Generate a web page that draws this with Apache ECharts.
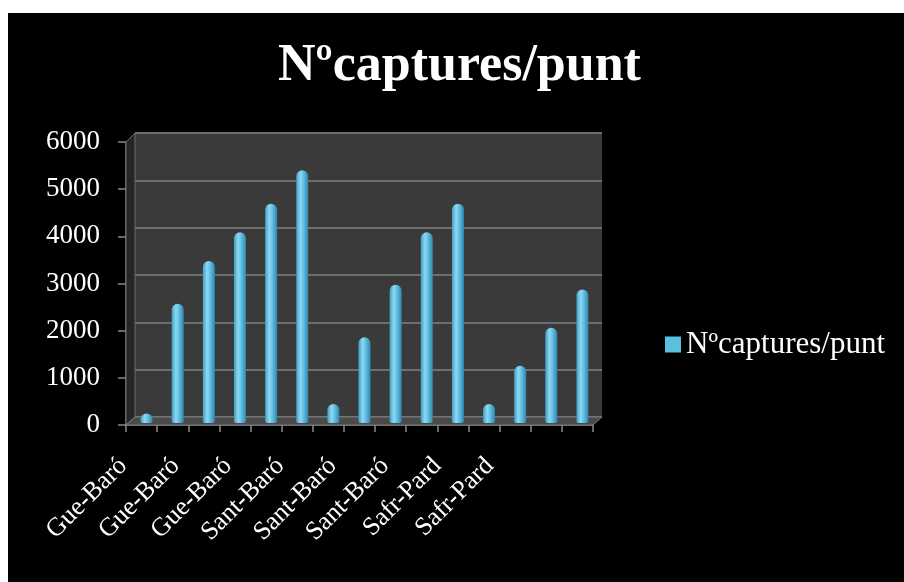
<!DOCTYPE html>
<html><head><meta charset="utf-8">
<script src="https://cdn.jsdelivr.net/npm/echarts@6/dist/echarts.min.js"></script>
<style>html,body{margin:0;padding:0;background:#fff}#c{width:904px;height:582px}</style>
</head><body><div id="c"></div>
<script>
const titleText = 'Nºcaptures/punt';
const seriesName = 'Nºcaptures/punt';
const categories = ['Gue-Baró','Gue-Baró','Gue-Baró','Gue-Baró','Gue-Baró','Gue-Baró',
  'Sant-Baró','Sant-Baró','Sant-Baró','Sant-Baró','Sant-Baró',
  'Safr-Pard','Safr-Pard','Safr-Pard','Safr-Pard'];
const values = [200, 2500, 3400, 4000, 4600, 5300, 400, 1800, 2900, 4000, 4600, 400, 1200, 2000, 2800];
const tickLabels = categories.filter((_, i) => i % 2 === 0);
const yMax = 6000, yStep = 1000;

// layout (pixels)
const FRONT = {l:126, t:142, w:467, h:283};
const BACK = {l:135, t:133, w:467, h:284};
const BARS = {l:131, t:137, w:467, h:286};
const SERIF = '"Liberation Serif", "DejaVu Serif", serif';

const chart = echarts.init(document.getElementById('c'), null, {renderer:'canvas'});
const barGrad = new echarts.graphic.LinearGradient(0,0,1,0,[
  {offset:0, color:'#3f9fc6'},{offset:0.35, color:'#8fd8f0'},{offset:0.6, color:'#62c0e4'},{offset:1, color:'#2f88ad'}]);

chart.setOption({
  backgroundColor:'#000',
  animation:false,
  title:{text:titleText, left:273, top:36,
    textStyle:{color:'#fff', fontFamily:SERIF, fontWeight:'bold', fontSize:52}},
  legend:{data:[seriesName], left:660, top:324, itemWidth:16, itemHeight:16, itemGap:6,
    icon:'rect', textStyle:{color:'#fff', fontFamily:SERIF, fontSize:31},
    itemStyle:{color:'#5bbfe0'}},
  graphic:[
    {type:'rect', shape:{x:0,y:0,width:904,height:13}, style:{fill:'#fff'}, z:100},
    {type:'rect', shape:{x:0,y:0,width:8,height:582}, style:{fill:'#fff'}, z:100},
    {type:'polygon', shape:{points:[[FRONT.l,FRONT.t],[BACK.l,BACK.t],[BACK.l,BACK.t+BACK.h],[FRONT.l,FRONT.t+FRONT.h]]},
      style:{fill:'#262626', stroke:'#6a6a6a', lineWidth:1}, z:1},
    {type:'polygon', shape:{points:[[FRONT.l,FRONT.t+FRONT.h],[FRONT.l+FRONT.w,FRONT.t+FRONT.h],[BACK.l+BACK.w,BACK.t+BACK.h],[BACK.l,BACK.t+BACK.h]]},
      style:{fill:'#4a4a4a', stroke:'#7a7a7a', lineWidth:1}, z:1}
  ],
  grid:[
    {left:BACK.l, top:BACK.t, width:BACK.w, height:BACK.h, show:true, backgroundColor:'#3a3a3a', borderWidth:0},
    {left:FRONT.l, top:FRONT.t, width:FRONT.w, height:FRONT.h, show:false},
    {left:BARS.l, top:BARS.t, width:BARS.w, height:BARS.h, show:false},
    {left:97, top:FRONT.t, width:419, height:FRONT.h, show:false}
  ],
  xAxis:[
    {gridIndex:0, type:'category', data:categories, show:false},
    {gridIndex:1, type:'category', data:categories,
      axisLine:{show:true, lineStyle:{color:'#8a8a8a', width:1.5}},
      axisTick:{show:true, interval:0, length:7, lineStyle:{color:'#8a8a8a', width:1.5}},
      axisLabel:{show:false}},
    {gridIndex:2, type:'category', data:categories, show:false},
    {gridIndex:3, type:'category', data:tickLabels,
      axisLine:{show:false}, axisTick:{show:false},
      axisLabel:{show:true, interval:0, rotate:45, margin:37, color:'#fff', fontFamily:SERIF, fontSize:26}}
  ],
  yAxis:[
    {gridIndex:0, type:'value', min:0, max:yMax, interval:yStep,
      axisLine:{show:false}, axisTick:{show:false}, axisLabel:{show:false},
      splitLine:{show:true, lineStyle:{color:'#6e6e6e', width:2}}},
    {gridIndex:1, type:'value', min:0, max:yMax, interval:yStep,
      axisLine:{show:true, lineStyle:{color:'#8a8a8a', width:1.5}},
      axisTick:{show:true, length:8, lineStyle:{color:'#8a8a8a', width:1.5}},
      axisLabel:{color:'#fff', fontFamily:SERIF, fontSize:27, margin:26, formatter:(v) => String(v)},
      splitLine:{show:false}},
    {gridIndex:2, type:'value', min:0, max:yMax, interval:yStep, show:false, splitLine:{show:false}},
    {gridIndex:3, type:'value', show:false, splitLine:{show:false}}
  ],
  series:[{
    name:seriesName, type:'bar', xAxisIndex:2, yAxisIndex:2, data:values,
    barWidth:12, z:5,
    itemStyle:{color:barGrad, borderRadius:[6,6,2,2]}
  }]
});
</script></body></html>
